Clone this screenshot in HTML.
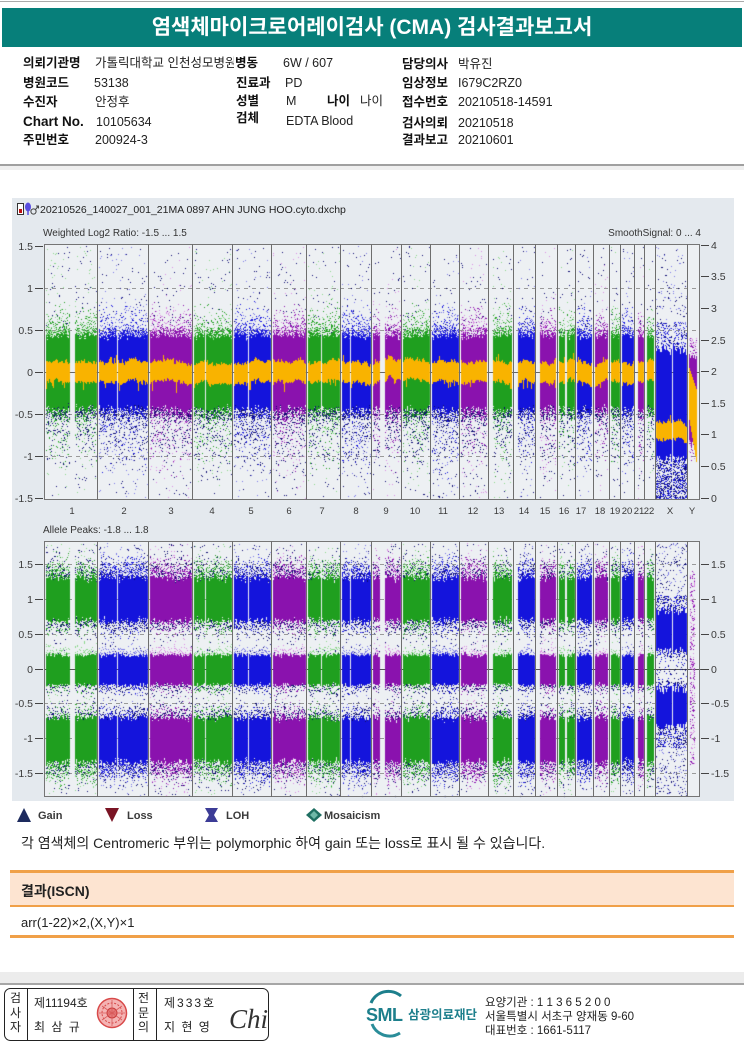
<!DOCTYPE html>
<html><head><meta charset="utf-8">
<style>
*{margin:0;padding:0;box-sizing:border-box}
body{width:744px;height:1052px;position:relative;overflow:hidden;background:#fff;font-family:"Liberation Sans","Noto Sans CJK KR",sans-serif;color:#111}
.a{position:absolute;white-space:nowrap;line-height:16px}
.l{font-weight:bold;font-size:12.5px;color:#111}
.v{font-size:12.5px;color:#222}
.ft{font-size:12px;color:#222;line-height:14px}
svg,canvas{position:absolute;left:0;top:0}
</style></head><body>

<!-- header -->
<div style="position:absolute;left:0;top:1px;width:744px;height:1px;background:#aaa"></div>
<div style="position:absolute;left:2px;top:8px;width:740px;height:39px;background:#077f7a;color:#fff;font-weight:bold;font-size:21px;line-height:39px;text-align:center;font-family:'Liberation Sans','Noto Sans CJK KR',sans-serif">염색체마이크로어레이검사 (CMA) 검사결과보고서</div>

<div class="a l" style="left:23px;top:55px">의뢰기관명</div>
<div class="a l" style="left:23px;top:75px">병원코드</div>
<div class="a l" style="left:23px;top:94px">수진자</div>
<div class="a l" style="left:23px;top:114px;font-size:13.5px">Chart No.</div>
<div class="a l" style="left:23px;top:132px">주민번호</div>

<div class="a v" style="left:95px;top:55px">가톨릭대학교 인천성모병원</div>
<div class="a v" style="left:94px;top:75px">53138</div>
<div class="a v" style="left:95px;top:94px">안정후</div>
<div class="a v" style="left:96px;top:114px">10105634</div>
<div class="a v" style="left:95px;top:132px">200924-3</div>

<div class="a l" style="left:234px;top:55px;background:#fff;padding-left:1px">병동</div>
<div class="a l" style="left:236px;top:75px">진료과</div>
<div class="a l" style="left:236px;top:93px">성별</div>
<div class="a l" style="left:236px;top:110px">검체</div>

<div class="a v" style="left:283px;top:55px">6W / 607</div>
<div class="a v" style="left:285px;top:75px">PD</div>
<div class="a v" style="left:286px;top:93px">M</div>
<div class="a v" style="left:286px;top:113px">EDTA Blood</div>
<div class="a l" style="left:327px;top:93px">나이</div>
<div class="a v" style="left:360px;top:93px">나이</div>

<div class="a l" style="left:402px;top:56px">담당의사</div>
<div class="a l" style="left:402px;top:75px">임상정보</div>
<div class="a l" style="left:402px;top:94px">접수번호</div>
<div class="a l" style="left:402px;top:115px">검사의뢰</div>
<div class="a l" style="left:402px;top:132px">결과보고</div>

<div class="a v" style="left:458px;top:56px">박유진</div>
<div class="a v" style="left:458px;top:75px">I679C2RZ0</div>
<div class="a v" style="left:458px;top:94px">20210518-14591</div>
<div class="a v" style="left:458px;top:115px">20210518</div>
<div class="a v" style="left:458px;top:132px">20210601</div>

<div style="position:absolute;left:0;top:164px;width:744px;height:2px;background:#a0a0a0"></div>
<div style="position:absolute;left:0;top:166px;width:744px;height:4px;background:#efefef"></div>

<!-- chart background -->
<div style="position:absolute;left:12px;top:198px;width:722px;height:603px;background:#e4e9ee"></div>

<svg width="744" height="1052" viewBox="0 0 744 1052">
  <rect x="44" y="244" width="656" height="256" fill="#edf0f3"/>
  <rect x="44" y="541" width="656" height="256" fill="#edf0f3"/>
  <g stroke="#9a9a9a" stroke-width="1" stroke-dasharray="4,4">
    <line x1="44" y1="288.5" x2="700" y2="288.5"/>
    <line x1="44" y1="330.5" x2="700" y2="330.5"/>
    <line x1="44" y1="414.5" x2="700" y2="414.5"/>
    <line x1="44" y1="456.5" x2="700" y2="456.5"/>
    <line x1="44" y1="564.5" x2="700" y2="564.5"/>
    <line x1="44" y1="599.5" x2="700" y2="599.5"/>
    <line x1="44" y1="634.5" x2="700" y2="634.5"/>
    <line x1="44" y1="703.5" x2="700" y2="703.5"/>
    <line x1="44" y1="738.5" x2="700" y2="738.5"/>
    <line x1="44" y1="773.5" x2="700" y2="773.5"/>
  </g>
  <line x1="44" y1="372.5" x2="700" y2="372.5" stroke="#666"/>
  <line x1="44" y1="669.5" x2="709" y2="669.5" stroke="#555"/>
</svg>

<canvas id="cv" width="744" height="1052"></canvas>

<svg width="744" height="1052" viewBox="0 0 744 1052" font-family="Liberation Sans, sans-serif">
  <!-- title row -->
  <rect x="17.5" y="203.5" width="6" height="11" fill="#fff" stroke="#333"/>
  <rect x="19" y="209" width="3" height="4" fill="#c01010"/>
  <ellipse cx="28" cy="207" rx="3" ry="4.5" fill="#5a4ee0"/>
  <path d="M28 211 L28 215" stroke="#5a4ee0" stroke-width="1.5"/>
  <circle cx="33.5" cy="211.5" r="2.6" fill="none" stroke="#444" stroke-width="1"/>
  <path d="M35.5 209.5 L38.5 206 M36 206 L38.5 206 L38.5 208.5" fill="none" stroke="#444" stroke-width="1"/>
  <text x="40" y="213" font-size="10.5" fill="#222">20210526_140027_001_21MA 0897 AHN JUNG HOO.cyto.dxchp</text>
  <text x="43" y="236" font-size="10" fill="#333">Weighted Log2 Ratio: -1.5 ... 1.5</text>
  <text x="701" y="236" font-size="10" fill="#333" text-anchor="end">SmoothSignal: 0 ... 4</text>
  <text x="43" y="533" font-size="10" fill="#333">Allele Peaks: -1.8 ... 1.8</text>

  <!-- frames -->
  <rect x="44.5" y="244.5" width="655" height="255" fill="none" stroke="#757575"/>
  <rect x="44.5" y="541.5" width="655" height="255" fill="none" stroke="#757575"/>
  <g stroke="#6e6e6e" stroke-width="1">
    <path d="M97.5 244V500M148.5 244V500M192.5 244V500M232.5 244V500M271.5 244V500M306.5 244V500M340.5 244V500M371.5 244V500M401.5 244V500M430.5 244V500M459.5 244V500M488.5 244V500M513.5 244V500M535.5 244V500M557.5 244V500M575.5 244V500M593.5 244V500M609.5 244V500M620.5 244V500M634.5 244V500M644.5 244V500M655.5 244V500M687.5 244V500"/>
    <path d="M97.5 541V797M148.5 541V797M192.5 541V797M232.5 541V797M271.5 541V797M306.5 541V797M340.5 541V797M371.5 541V797M401.5 541V797M430.5 541V797M459.5 541V797M488.5 541V797M513.5 541V797M535.5 541V797M557.5 541V797M575.5 541V797M593.5 541V797M609.5 541V797M620.5 541V797M634.5 541V797M644.5 541V797M655.5 541V797M687.5 541V797"/>
  </g>

  <!-- ticks -->
  <g stroke="#444" stroke-width="1">
    <path d="M35 246.5H43M35 288.5H43M35 330.5H43M35 372.5H43M35 414.5H43M35 456.5H43M35 498.5H43"/>
    <path d="M701 245.5H709M701 276.5H709M701 308.5H709M701 340.5H709M701 371.5H709M701 403.5H709M701 434.5H709M701 466.5H709M701 498.5H709"/>
    <path d="M35 564.5H43M35 599.5H43M35 634.5H43M35 669.5H43M35 703.5H43M35 738.5H43M35 773.5H43"/>
    <path d="M701 564.5H709M701 599.5H709M701 634.5H709M701 669.5H709M701 703.5H709M701 738.5H709M701 773.5H709"/>
  </g>
  <g font-size="10.5" fill="#3a3a3a" text-anchor="end">
    <text x="33" y="250">1.5</text><text x="33" y="292">1</text><text x="33" y="334">0.5</text><text x="33" y="376">0</text><text x="33" y="418">-0.5</text><text x="33" y="460">-1</text><text x="33" y="502">-1.5</text>
    <text x="33" y="568">1.5</text><text x="33" y="603">1</text><text x="33" y="638">0.5</text><text x="33" y="673">0</text><text x="33" y="707">-0.5</text><text x="33" y="742">-1</text><text x="33" y="777">-1.5</text>
  </g>
  <g font-size="10.5" fill="#3a3a3a">
    <text x="711" y="249">4</text><text x="711" y="280">3.5</text><text x="711" y="312">3</text><text x="711" y="344">2.5</text><text x="711" y="375">2</text><text x="711" y="407">1.5</text><text x="711" y="438">1</text><text x="711" y="470">0.5</text><text x="711" y="502">0</text>
    <text x="711" y="568">1.5</text><text x="711" y="603">1</text><text x="711" y="638">0.5</text><text x="711" y="673">0</text><text x="711" y="707">-0.5</text><text x="711" y="742">-1</text><text x="711" y="777">-1.5</text>
  </g>
  <g font-size="9.5" fill="#3a3a3a" text-anchor="middle">
    <text x="72" y="514">1</text><text x="124" y="514">2</text><text x="171" y="514">3</text><text x="212" y="514">4</text><text x="251" y="514">5</text><text x="289" y="514">6</text><text x="322" y="514">7</text><text x="356" y="514">8</text><text x="386" y="514">9</text><text x="415" y="514">10</text><text x="443" y="514">11</text><text x="473" y="514">12</text><text x="499" y="514">13</text><text x="524" y="514">14</text><text x="545" y="514">15</text><text x="564" y="514">16</text><text x="581" y="514">17</text><text x="600" y="514">18</text><text x="615" y="514">19</text><text x="627" y="514">20</text><text x="639" y="514">21</text><text x="649" y="514">22</text><text x="670" y="514">X</text><text x="692" y="514">Y</text>
  </g>

  <!-- legend -->
  <polygon points="17,822 24,808 31,822" fill="#1d2b5e"/>
  <polygon points="105,808 119,808 112,822" fill="#7a1424"/>
  <polygon points="205,808 218,808 214,815 218,822 205,822 209,815" fill="#3c3c96"/>
  <polygon points="314,808 322,815 314,822 306,815" fill="#1f6f62"/>
  <polygon points="314,811 318,815 314,819 310,815" fill="#6fb8a8"/>
  <g font-size="11" font-weight="bold" fill="#3a3a3a">
    <text x="38" y="819">Gain</text><text x="127" y="819">Loss</text><text x="226" y="819">LOH</text><text x="324" y="819">Mosaicism</text>
  </g>

  <!-- footer graphics -->
  <rect x="4.5" y="988.5" width="264" height="52" rx="6" fill="none" stroke="#222"/>
  <path d="M27.5 989V1041M133.5 989V1041M156.5 989V1041" stroke="#222"/>
  <circle cx="112" cy="1013" r="14.5" fill="#f4b3b3" stroke="#d84a4a" stroke-width="1.5"/>
  <circle cx="112" cy="1013" r="10" fill="none" stroke="#d84a4a" stroke-width="1" stroke-dasharray="2,1.5"/>
  <circle cx="112" cy="1013" r="5" fill="#e57a7a" stroke="#c83a3a" stroke-width="1"/>
  <path d="M102 1006L122 1020M122 1006L102 1020M112 1000V1026M99 1013H125" stroke="#d85a5a" stroke-width="0.8"/>
  <text x="229" y="1028" font-family="Liberation Serif, serif" font-style="italic" font-size="27" fill="#333">Chi</text>
  <path d="M371 1003 A19 19 0 0 1 401 996" fill="none" stroke="#1d7f8c" stroke-width="3"/>
  <path d="M372 1024 A19 19 0 0 0 400 1033" fill="none" stroke="#2a8d99" stroke-width="3"/>
  <text x="366" y="1021" font-size="18" font-weight="bold" fill="#1d7f8c" letter-spacing="-0.5">SML</text>
</svg>

<!-- note / result -->
<div class="a" style="left:21px;top:834px;font-size:14px;color:#222;line-height:18px">각 염색체의 Centromeric 부위는 polymorphic 하여 gain 또는 loss로 표시 될 수 있습니다.</div>
<div style="position:absolute;left:10px;top:870px;width:724px;height:3px;background:#f0a048"></div>
<div style="position:absolute;left:10px;top:873px;width:724px;height:32px;background:#fde4d1"></div>
<div style="position:absolute;left:10px;top:905px;width:724px;height:2px;background:#f0a048"></div>
<div class="a" style="left:21px;top:881px;font-size:14px;font-weight:bold;color:#222;line-height:20px">결과(ISCN)</div>
<div class="a" style="left:21px;top:914px;font-size:13px;color:#222;line-height:18px">arr(1-22)×2,(X,Y)×1</div>
<div style="position:absolute;left:10px;top:935px;width:724px;height:3px;background:#f0a048"></div>

<!-- footer -->
<div style="position:absolute;left:0;top:972px;width:744px;height:11px;background:#ececec"></div>
<div style="position:absolute;left:0;top:983px;width:744px;height:2px;background:#a6a6a6"></div>
<div class="a ft" style="left:10px;top:991px;line-height:14.5px;text-align:center">검<br>사<br>자</div>
<div class="a ft" style="left:138px;top:991px;line-height:14.5px;text-align:center">전<br>문<br>의</div>
<div class="a ft" style="left:34px;top:996px">제11194호</div>
<div class="a ft" style="left:34px;top:1020px;letter-spacing:1.5px">최 삼 규</div>
<div class="a ft" style="left:164px;top:996px;letter-spacing:2px">제333호</div>
<div class="a ft" style="left:164px;top:1020px;letter-spacing:1.5px">지 현 영</div>
<div class="a" style="left:408px;top:1007px;font-size:12.5px;font-weight:bold;color:#1d7f8c;line-height:16px">삼광의료재단</div>
<div class="a ft" style="left:485px;top:996px;font-size:11.5px">요양기관 : 1 1 3 6 5 2 0 0</div>
<div class="a ft" style="left:485px;top:1010px;font-size:11.5px">서울특별시 서초구 양재동 9-60</div>
<div class="a ft" style="left:485px;top:1024px;font-size:11.5px">대표번호 : 1661-5117</div>

<script>
(function(){
var cv=document.getElementById('cv');var x=cv.getContext('2d');
var S=2463534242>>>0;
function R(){S^=S<<13;S>>>=0;S^=S>>>17;S^=S<<5;S>>>=0;return S/4294967296;}
function G(){return (R()+R()+R()-1.5)*2;}
function d(px,py,c){x.fillStyle=c;x.fillRect(px,Math.round(py),1,1);}
function f(px,a,b,c){x.fillStyle=c;var A=Math.round(a),B=Math.round(b);x.fillRect(px,A,1,B-A);}
var C={g:['#1f9f1f','#8ad88a'],b:['#1414dc','#7a7ae6'],p:['#8a12ae','#d98fe3']};
var NV='#0c0c70',OR='#f9b300';
var CH=[[46,96,'g',[[70,74]]],[99,147,'b',[[117,117]]],[150,191,'p',[]],[194,231,'g',[[205,205]]],[234,270,'b',[[248,248]]],[273,305,'p',[]],[308,339,'g',[[321,321]]],[342,370,'b',[[350,350]]],[373,400,'p',[[380,384]]],[403,429,'g',[]],[432,458,'b',[]],[461,486,'p',[]],[493,511,'g',[]],[518,534,'b',[]],[540,555,'p',[]],[559,574,'g',[[565,566]]],[577,591,'b',[]],[595,607,'p',[]],[611,619,'g',[]],[622,633,'b',[]],[638,643,'p',[]],[647,653,'g',[]]];
function cols(ch){var r=[];for(var p=ch[0];p<=ch[1];p++){var skip=false;for(var i=0;i<ch[3].length;i++){if(p>=ch[3][i][0]&&p<=ch[3][i][1])skip=true;}if(!skip)r.push(p);}return r;}
var W=0;
function orng(px,cy,hw){W=W*.8+G()*1.0;var c0=cy+W;var a=c0-hw-Math.abs(G())*1.3,b=c0+hw+Math.abs(G())*1.3;if(R()<.1)a-=R()*7;if(R()<.1)b+=R()*9;f(px,a,b,OR);}
// top plot autosomes
CH.forEach(function(ch){var dc=C[ch[2]][0],lc=C[ch[2]][1];cols(ch).forEach(function(px){
  var t=336+G()*2,b=409+G()*2.2,i,py;
  for(i=0;i<5;i++)d(px,246+R()*252,R()<.55?NV:lc);
  for(i=0;i<9;i++){py=b+Math.abs(G())*26;if(py<499)d(px,py,R()<.45?NV:(R()<.5?lc:dc));}
  for(i=0;i<6;i++)d(px,t-Math.abs(G())*13,R()<.6?dc:lc);
  for(py=t-7;py<t;py++)if(R()<.5)d(px,py,R()<.7?dc:lc);
  for(py=b;py<b+9;py++)if(R()<.5)d(px,py,R()<.6?dc:NV);
  f(px,t,b,dc);
  orng(px,372,9);
});});
// X top
(function(){var dc=C.b[0],lc=C.b[1],px,py,i;for(px=656;px<=686;px++){if(px===672)continue;
  for(i=0;i<3;i++)d(px,246+R()*76,R()<.5?NV:lc);
  for(py=322;py<349;py++)if(R()<.3)d(px,py,R()<.5?dc:(R()<.5?NV:lc));
  for(py=458;py<499;py++)if(R()<.45)d(px,py,R()<.5?dc:NV);
  f(px,349+G()*3,458+G()*2,dc);
  orng(px,432,8);
}})();
// Y top
(function(){var dc=C.p[0],lc=C.p[1],i,py,px;for(i=0;i<8;i++){px=689+i;
  for(py=338;py<356;py++)if(R()<.3)d(px,py,R()<.5?dc:lc);
  var b=448-i+G()*3;f(px,355+G()*2,b,dc);
  for(py=b;py<b+14;py++)if(R()<.3)d(px,py,R()<.5?dc:lc);
  f(px,368+i*3,420+i*6,OR);
}})();
// bottom autosomes
CH.forEach(function(ch){var dc=C[ch[2]][0],lc=C[ch[2]][1];cols(ch).forEach(function(px){
  var i;
  for(i=0;i<10;i++)d(px,543+R()*253,R()<.5?NV:lc);
  var t1=578+G()*2,b1=621+G()*2,t2=655+G()*1.2,b2=685+G()*1.2,t3=718+G()*2,b3=762+G()*2;
  for(i=0;i<9;i++)d(px,t1-Math.abs(G())*9,R()<.55?dc:(R()<.5?lc:NV));
  for(i=0;i<4;i++)d(px,b1+Math.abs(G())*6,R()<.5?dc:NV);
  for(i=0;i<2;i++){d(px,t2-Math.abs(G())*4,lc);d(px,b2+Math.abs(G())*4,R()<.5?NV:dc);}
  for(i=0;i<4;i++)d(px,t3-Math.abs(G())*6,R()<.5?dc:NV);
  for(i=0;i<9;i++)d(px,b3+Math.abs(G())*9,R()<.55?dc:(R()<.5?lc:NV));
  f(px,t1,b1,dc);f(px,t2,b2,dc);f(px,t3,b3,dc);
});});
// X bottom
(function(){var dc=C.b[0],lc=C.b[1],px,py,i;for(px=656;px<=686;px++){if(px===672)continue;
  for(i=0;i<5;i++)d(px,543+R()*50,R()<.5?NV:lc);
  for(py=595;py<612;py++)if(R()<.3)d(px,py,R()<.6?dc:NV);
  f(px,611+G()*2.5,650+G()*2.5,dc);
  for(py=650;py<688;py++){var pr=(py<658||py>680)?.3:.1;if(R()<pr)d(px,py,R()<.5?dc:NV);}
  f(px,688+G()*2.5,727+G()*2.5,dc);
  for(py=727;py<748;py++)if(R()<.3)d(px,py,R()<.6?dc:NV);
  for(i=0;i<5;i++)d(px,748+R()*48,R()<.5?NV:lc);
}})();
// Y bottom
(function(){var px,py;for(px=690;px<=694;px++){for(py=570;py<765;py++)if(R()<.3)d(px,py,R()<.5?C.p[0]:C.p[1]);}})();
})();
</script>
</body></html>
